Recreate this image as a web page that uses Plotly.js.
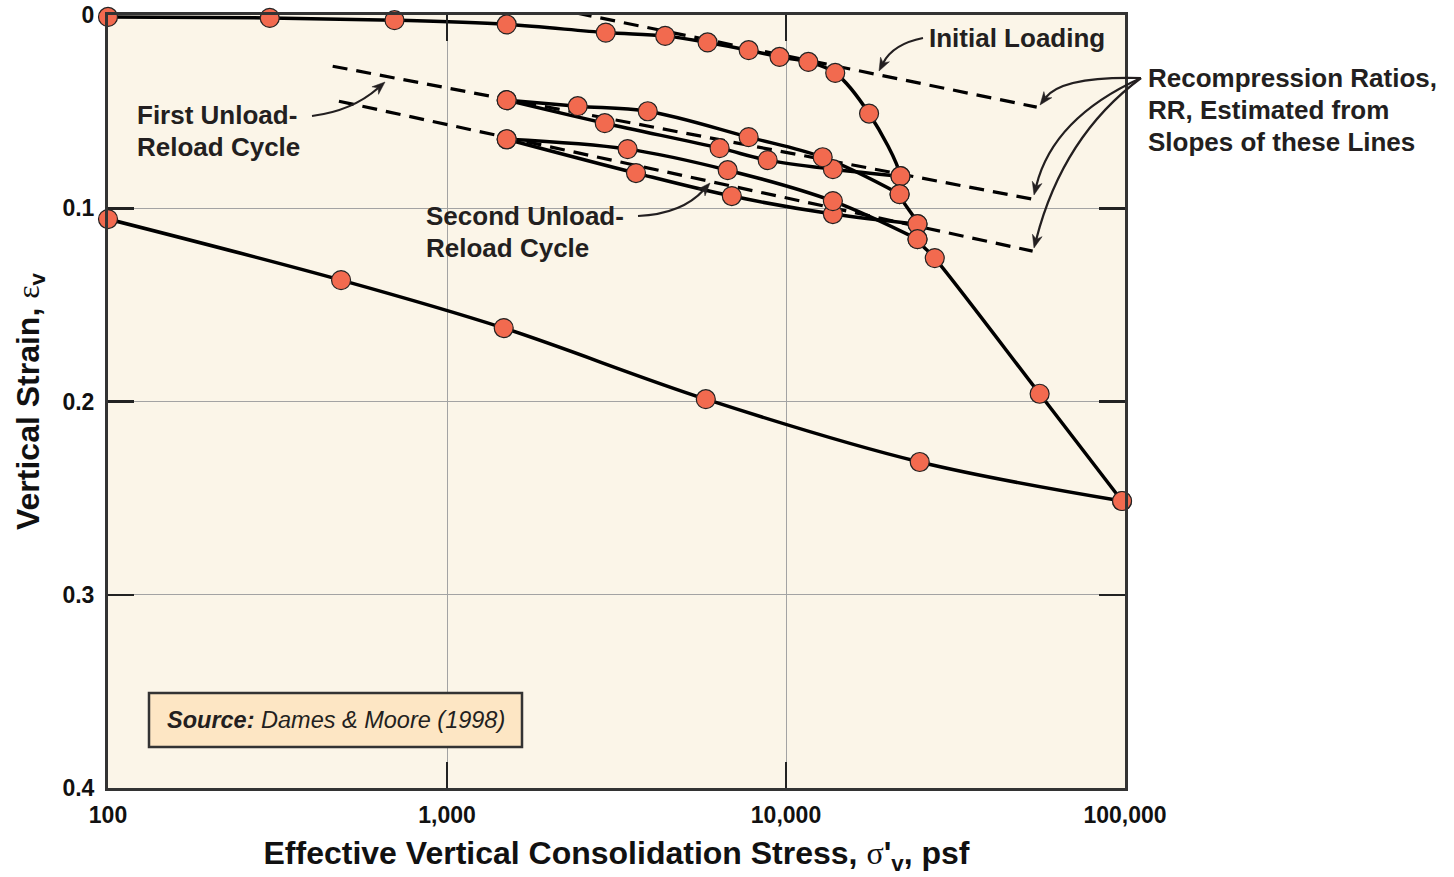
<!DOCTYPE html>
<html>
<head>
<meta charset="utf-8">
<script src="https://cdn.plot.ly/plotly-3.0.1.min.js"></script>
<style>
html,body{margin:0;padding:0;background:#ffffff;}
#chart{width:1454px;height:877px;}
</style>
</head>
<body>
<div id="chart"></div>
<script>
// ---------------- DATA ----------------
// Initial (virgin) loading curve, continuing through the loop reloads
const loadingX = [100, 300, 700, 1500, 2940, 4400, 5870, 7760, 9570, 11640, 13970, 17580, 21760, 21630, 24430, 24430, 27470, 56000, 98000];
const loadingY = [0.001, 0.0015, 0.0027, 0.0049, 0.0091, 0.0108, 0.0142, 0.0182, 0.0217, 0.0243, 0.0300, 0.0510, 0.0834, 0.0927, 0.1082, 0.1160, 0.1258, 0.1960, 0.2515];

// First unload-reload cycle
const unload1X = [21760, 13750, 8830, 6370, 2920, 1500];
const unload1Y = [0.0834, 0.0798, 0.0751, 0.0689, 0.0560, 0.0441];
const reload1X = [1500, 2430, 3910, 7760, 12830, 21630];
const reload1Y = [0.0441, 0.0472, 0.0498, 0.0632, 0.0736, 0.0927];

// Second unload-reload cycle
const unload2X = [24430, 13750, 6920, 3610, 1500];
const unload2Y = [0.1082, 0.1030, 0.0937, 0.0818, 0.0643];
const reload2X = [1500, 3410, 6730, 13750, 24430];
const reload2Y = [0.0643, 0.0694, 0.0803, 0.0963, 0.1160];

// Final unloading
const finalUnloadX = [98000, 24800, 5800, 1470, 487, 100];
const finalUnloadY = [0.2515, 0.2313, 0.1988, 0.1620, 0.1372, 0.1056];

// Recompression-ratio lines (dashed)
const rrInitialX = [2415, 54900];
const rrInitialY = [-0.001, 0.0477];
const rrFirstX = [460, 53400];
const rrFirstY = [0.0265, 0.0953];
const rrSecondX = [480, 53400];
const rrSecondY = [0.0446, 0.1222];

// Tick labels
const xTickVals = [100, 1000, 10000, 100000];
const xTickText = ['100', '1,000', '10,000', '100,000'];
const yTickVals = [0, 0.1, 0.2, 0.3, 0.4];
const yTickText = ['0', '0.1', '0.2', '0.3', '0.4'];

// Annotation texts
const recompLines = ['Recompression Ratios,', 'RR, Estimated from', 'Slopes of these Lines'];
const firstLines = ['First Unload-', 'Reload Cycle'];
const secondLines = ['Second Unload-', 'Reload Cycle'];

// ---------------- STYLE / LAYOUT ----------------
const FONT = 'Liberation Sans, Arial, Helvetica, sans-serif';
const INK = '#231f20';
const L = 108, R = 1125, T = 15, B = 788, W = 1454, H = 877;
const px = x => (x - L) / (R - L);
const py = y => (B - y) / (B - T);

const dashLine = {color: '#000', width: 3.2, dash: '15px,9px'};
const solidLine = {color: '#000', width: 3.5, shape: 'spline', smoothing: 1};

const traces = [];
[[rrInitialX, rrInitialY], [rrFirstX, rrFirstY], [rrSecondX, rrSecondY]].forEach(([x, y]) => {
  traces.push({x, y, type: 'scatter', mode: 'lines', line: dashLine, hoverinfo: 'skip'});
});
[[loadingX, loadingY], [unload1X, unload1Y], [reload1X, reload1Y], [unload2X, unload2Y], [reload2X, reload2Y], [finalUnloadX, finalUnloadY]].forEach(([x, y]) => {
  traces.push({x, y, type: 'scatter', mode: 'lines', line: solidLine, hoverinfo: 'skip'});
});
traces.push({
  x: [].concat(loadingX, unload1X, reload1X, unload2X, reload2X, finalUnloadX),
  y: [].concat(loadingY, unload1Y, reload1Y, unload2Y, reload2Y, finalUnloadY),
  type: 'scatter', mode: 'markers', hoverinfo: 'skip', cliponaxis: false,
  marker: {size: 19, color: '#f26a4f', line: {color: '#222', width: 1.2}}
});

// curved arrows: [startX, startY, ctrlX, ctrlY, tipX, tipY] in page pixels
const curves = [
  [923, 38, 893, 44, 879, 71],
  [1141, 78, 1062, 76, 1040, 105],
  [1141, 78, 1053, 118, 1034, 195],
  [1141, 78, 1063, 136, 1034, 248],
  [312, 116, 352, 111, 385, 82],
  [638, 216, 682, 214, 710, 183]
];

const shapes = [{
  type: 'rect', xref: 'paper', yref: 'paper', layer: 'above',
  x0: px(149), x1: px(522), y0: py(747), y1: py(693),
  fillcolor: '#fde6c4', line: {color: '#333', width: 2.5}
}];
curves.forEach(c => {
  const dx = c[4] - c[2], dy = c[5] - c[3];
  const len = Math.hypot(dx, dy);
  const ux = dx / len, uy = dy / len;
  const hl = 13, hw = 5;
  // end the curve a little inside the head
  const bx = c[4] - ux * hl * 0.7, by = c[5] - uy * hl * 0.7;
  shapes.push({
    type: 'path', xref: 'paper', yref: 'paper', layer: 'above',
    path: `M${px(c[0])},${py(c[1])} Q${px(c[2])},${py(c[3])} ${px(bx)},${py(by)}`,
    line: {color: INK, width: 2.2}
  });
  const baseX = c[4] - ux * hl, baseY = c[5] - uy * hl;
  const notchX = c[4] - ux * hl * 0.7, notchY = c[5] - uy * hl * 0.7;
  const p1 = [baseX - uy * hw, baseY + ux * hw];
  const p2 = [baseX + uy * hw, baseY - ux * hw];
  shapes.push({
    type: 'path', xref: 'paper', yref: 'paper', layer: 'above',
    path: `M${px(c[4])},${py(c[5])} L${px(p1[0])},${py(p1[1])} L${px(notchX)},${py(notchY)} L${px(p2[0])},${py(p2[1])} Z`,
    fillcolor: INK, line: {color: INK, width: 0.5}
  });
});

const labelFont = {family: FONT, size: 26, color: INK};
const annotations = [];
function addText(text, x, y) {
  annotations.push({xref: 'paper', yref: 'paper', x: px(x), y: py(y), xanchor: 'left', yanchor: 'middle',
    text: '<b>' + text + '</b>', showarrow: false, font: labelFont, align: 'left'});
}
addText('Initial Loading', 927, 38);
recompLines.forEach((t, i) => addText(t, 1146, 78 + 32 * i));
firstLines.forEach((t, i) => addText(t, 135, 115 + 32 * i));
secondLines.forEach((t, i) => addText(t, 424, 216 + 32 * i));
annotations.push({xref: 'paper', yref: 'paper', x: px(336), y: py(720), xanchor: 'center', yanchor: 'middle',
   text: '<b><i>Source:</i></b><i> Dames &amp; Moore (1998)</i>', showarrow: false,
   font: {family: FONT, size: 23.5, color: INK}});

const greek = 'font-family:\'Liberation Serif\', serif;font-weight:normal';
const layout = {
  width: W, height: H,
  margin: {l: L, r: W - R, t: T, b: H - B, pad: 0},
  paper_bgcolor: '#ffffff',
  plot_bgcolor: '#fbf5e8',
  showlegend: false,
  hovermode: false,
  xaxis: {
    type: 'log', range: [2, 5],
    tickmode: 'array', tickvals: xTickVals, ticktext: xTickText.map(t => '<b>' + t + '</b>'),
    ticks: 'inside', ticklen: 26, tickwidth: 2.5, tickcolor: '#222',
    showline: true, linecolor: '#333', linewidth: 3, mirror: 'allticks',
    showgrid: true, gridcolor: '#a3a3a3', gridwidth: 1, zeroline: false,
    tickfont: {family: FONT, size: 23, color: '#111'},
    ticklabelstandoff: 4,
    automargin: false,
    title: {
      text: `<b>Effective Vertical Consolidation Stress, <span style="${greek}">σ</span>'<sub>v</sub>, psf</b>`,
      font: {family: FONT, size: 32, color: '#111'}, standoff: 16
    }
  },
  yaxis: {
    range: [0.4, 0],
    tickmode: 'array', tickvals: yTickVals, ticktext: yTickText.map(t => '<b>' + t + '</b>'),
    ticks: 'inside', ticklen: 26, tickwidth: 2.5, tickcolor: '#222',
    showline: true, linecolor: '#333', linewidth: 3, mirror: 'allticks',
    showgrid: true, gridcolor: '#a3a3a3', gridwidth: 1, zeroline: false,
    tickfont: {family: FONT, size: 23, color: '#111'},
    ticklabelstandoff: 6,
    automargin: false,
    title: {
      text: `<b>Vertical Strain, <span style="${greek}">ε</span><sub>v</sub></b>`,
      font: {family: FONT, size: 32, color: '#111'}, standoff: 14
    }
  },
  shapes: shapes,
  annotations: annotations
};

Plotly.newPlot('chart', traces, layout, {displayModeBar: false, staticPlot: true});
</script>
</body>
</html>
